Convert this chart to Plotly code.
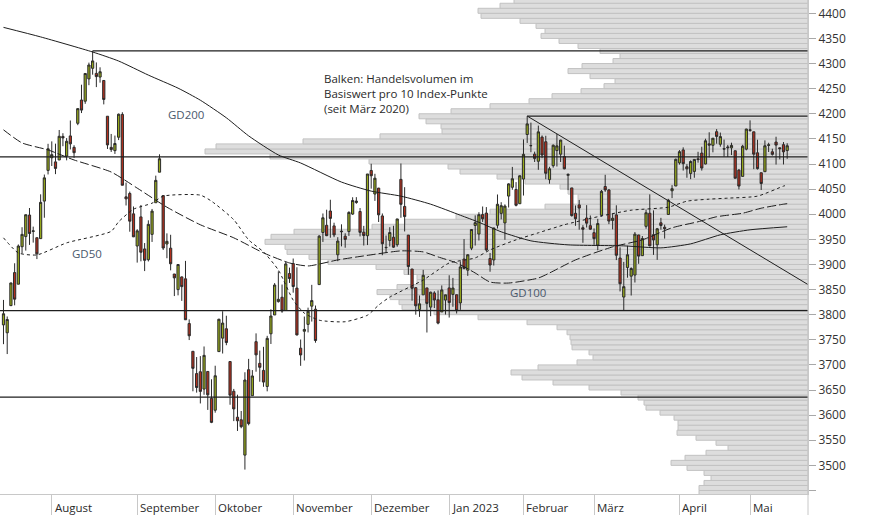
import pandas as pd
import plotly.graph_objects as go

# ---------------- data ----------------
holidays = ['2022-09-05', '2022-11-24', '2022-12-26', '2023-01-02',
            '2023-01-16', '2023-02-20', '2023-04-07']
dates = [d.strftime('%Y-%m-%d') for d in
         pd.bdate_range('2022-07-13', '2023-05-15', freq='C', holidays=holidays)]

open_ = [
    3779.7, 3764.0, 3818.0, 3883.8, 3860.7, 3935.3, 3955.5, 3998.4, 3965.7, 3953.2, 3951.4, 4026.1, 4087.3,
    4112.4, 4104.2, 4108.0, 4154.9, 4115.9, 4155.9, 4133.1, 4181.0, 4227.4, 4225.0, 4269.4, 4290.5, 4280.4, 4273.1, 4266.3, 4195.1, 4133.1, 4126.6, 4153.3, 4198.7, 4034.6, 4041.3, 4000.7,
    3936.7, 3994.7, 3930.9, 3909.4, 3959.9, 4022.9, 4083.7, 4037.1, 3940.7, 3932.4, 3881.0, 3849.9, 3875.2, 3871.4, 3782.4, 3727.1, 3682.7, 3686.4, 3651.9, 3687.0, 3633.5,
    3609.8, 3726.5, 3753.3, 3772.0, 3706.7, 3647.5, 3595.9, 3590.8, 3520.4, 3690.4, 3638.7, 3746.3, 3703.1, 3689.1, 3657.1, 3762.0, 3799.4, 3826.0, 3834.7, 3808.3, 3881.9,
    3901.8, 3852.9, 3733.3, 3767.0, 3780.7, 3817.0, 3810.9, 3859.9, 3963.7, 3978.0, 4006.4, 3976.8, 3919.3, 3966.4, 3956.2, 3965.5, 4000.3, 4023.3, 4005.4, 3964.2, 3957.2,
    4087.1, 4040.2, 4052.0, 3996.6, 3933.3, 3947.8, 3954.2, 3939.3, 4069.4, 4015.5, 3958.4, 3890.9, 3853.8, 3810.5, 3839.5, 3853.3, 3815.1, 3843.3, 3829.6, 3805.5, 3829.1,
    3853.3, 3840.4, 3839.7, 3823.4, 3910.8, 3888.6, 3932.4, 3977.6, 3960.6, 3999.3, 4002.3, 3911.8, 3909.0, 3978.1, 4001.7, 3982.7, 4036.1, 4053.7, 4049.3, 4020.9,
    4070.1, 4158.7, 4136.7, 4119.6, 4105.4, 4153.5, 4144.3, 4068.9, 4096.6, 4126.7, 4119.5, 4114.8, 4077.4, 4052.4, 4001.8, 4018.6, 3973.2, 3992.4, 3977.2,
    3963.3, 3938.7, 3998.0, 4055.2, 4048.3, 3987.6, 3998.7, 3912.8, 3835.1, 3894.0, 3876.7, 3878.9, 3958.7, 3917.5, 3975.9, 4002.0, 3959.2, 3939.2, 3982.9, 3974.1, 3999.5, 4046.7, 4056.2,
    4102.2, 4128.0, 4094.5, 4081.2, 4085.2, 4110.3, 4121.7, 4100.0, 4140.1, 4137.2, 4164.3, 4139.3, 4130.5, 4132.1, 4132.1, 4126.4, 4087.8, 4075.3, 4129.6,
    4166.8, 4164.1, 4122.3, 4082.6, 4084.7, 4137.0, 4124.3, 4143.7, 4132.2, 4138.5, 4126.7]
high = [
    3829.4, 3796.4, 3863.6, 3902.4, 3939.8, 3974.1, 3999.3, 4012.4, 3975.3, 3953.2, 4039.6, 4079.0, 4140.2,
    4145.0, 4140.5, 4167.7, 4161.3, 4151.6, 4186.6, 4137.3, 4211.0, 4257.9, 4280.5, 4301.8, 4325.3, 4302.2, 4292.5, 4266.3, 4195.1, 4159.8, 4156.6, 4200.5, 4203.0, 4063.0, 4045.0, 4015.4,
    3970.2, 4018.4, 3942.6, 3987.9, 4010.5, 4076.8, 4119.3, 4037.1, 3961.9, 3959.1, 3881.0, 3900.5, 3876.0, 3907.1, 3790.6, 3727.1, 3715.7, 3717.5, 3736.7, 3687.0, 3671.4,
    3698.4, 3791.9, 3806.9, 3797.9, 3706.7, 3652.2, 3640.7, 3608.3, 3685.4, 3712.0, 3689.7, 3762.8, 3728.6, 3736.0, 3757.9, 3810.7, 3862.9, 3886.2, 3860.0, 3905.4, 3893.7,
    3911.8, 3894.4, 3750.6, 3796.3, 3814.0, 3859.4, 3818.2, 3958.3, 4001.5, 4009.0, 4028.8, 3983.1, 3954.3, 3979.9, 3962.0, 4005.9, 4033.8, 4034.0, 4012.3, 3976.8, 4080.1,
    4100.5, 4080.5, 4052.5, 4001.5, 3957.6, 3974.2, 3977.0, 3990.7, 4101.0, 4053.8, 3958.4, 3890.9, 3854.9, 3838.2, 3889.3, 3853.3, 3845.8, 3846.7, 3848.3, 3858.2, 3839.9,
    3878.5, 3873.2, 3839.7, 3906.2, 3950.6, 3919.8, 3970.1, 3997.8, 4004.0, 4015.4, 4014.2, 3922.9, 3973.0, 4039.3, 4023.9, 4019.6, 4061.6, 4094.2, 4063.9, 4077.2,
    4149.0, 4195.4, 4182.4, 4124.6, 4176.5, 4156.9, 4156.2, 4094.4, 4138.9, 4159.8, 4148.1, 4136.5, 4081.5, 4052.4, 4017.4, 4028.3, 3978.3, 4018.1, 3997.5,
    3971.7, 3990.8, 4048.3, 4078.5, 4050.0, 4000.4, 4017.8, 3934.1, 3905.1, 3937.3, 3894.3, 3964.5, 3958.9, 3956.6, 4009.1, 4039.5, 4007.7, 3972.7, 3992.8, 3979.2, 4030.6, 4057.9, 4110.8,
    4127.7, 4133.1, 4099.7, 4107.3, 4109.5, 4124.3, 4134.4, 4150.3, 4163.2, 4151.7, 4169.5, 4162.6, 4148.6, 4138.0, 4142.4, 4126.4, 4089.7, 4138.2, 4170.1,
    4186.9, 4164.1, 4148.3, 4082.6, 4147.0, 4142.3, 4130.4, 4154.3, 4132.8, 4143.7, 4141.3]
low = [
    3741.3, 3721.6, 3817.2, 3818.6, 3860.7, 3922.0, 3927.6, 3938.9, 3943.5, 3910.7, 3951.4, 3993.0, 4079.2,
    4096.0, 4079.8, 4108.0, 4135.4, 4107.3, 4129.0, 4112.1, 4177.3, 4201.4, 4219.8, 4256.9, 4277.8, 4253.1, 4262.0, 4218.7, 4129.9, 4124.0, 4120.0, 4147.6, 4057.7, 4017.4, 3965.2, 3954.5,
    3903.7, 3906.2, 3886.8, 3906.0, 3944.8, 4022.9, 4083.7, 3928.9, 3912.4, 3888.3, 3837.1, 3838.5, 3827.5, 3789.5, 3749.5, 3647.5, 3644.8, 3623.3, 3640.6, 3610.4, 3584.1,
    3604.9, 3726.5, 3722.7, 3739.2, 3620.7, 3588.1, 3568.5, 3573.9, 3491.6, 3579.7, 3638.7, 3686.5, 3666.5, 3656.4, 3647.4, 3741.7, 3799.4, 3824.1, 3803.8, 3808.3, 3863.2,
    3843.8, 3758.7, 3698.2, 3708.8, 3764.7, 3786.3, 3744.2, 3859.9, 3944.8, 3956.4, 3953.2, 3954.3, 3906.5, 3936.0, 3933.3, 3956.9, 3998.7, 4020.8, 3955.8, 3937.7, 3938.6,
    4050.9, 4026.6, 3984.5, 3918.4, 3922.7, 3935.8, 3933.0, 3935.3, 3993.0, 3965.7, 3879.5, 3827.9, 3800.0, 3795.6, 3839.5, 3764.5, 3797.0, 3813.2, 3780.8, 3805.5, 3800.3,
    3794.3, 3815.8, 3802.4, 3809.6, 3890.4, 3877.3, 3928.5, 3937.6, 3947.7, 3984.6, 3926.6, 3885.5, 3897.9, 3971.6, 3989.8, 3949.1, 4013.3, 4048.7, 4015.6, 4020.4,
    4037.2, 4141.9, 4123.4, 4104.0, 4088.4, 4111.7, 4069.7, 4060.8, 4092.7, 4095.0, 4104.0, 4089.5, 4048.0, 3995.2, 3976.9, 3969.2, 3943.1, 3973.6, 3969.0,
    3939.1, 3928.2, 3995.2, 4044.6, 3980.3, 3969.8, 3908.7, 3846.3, 3808.9, 3873.6, 3838.2, 3864.1, 3901.3, 3916.9, 3971.2, 3936.2, 3919.1, 3909.2, 3969.3, 3951.5, 3999.5, 4032.1, 4056.2,
    4098.8, 4086.9, 4072.6, 4069.8, 4072.6, 4102.6, 4086.9, 4099.4, 4113.2, 4123.2, 4140.4, 4134.5, 4114.6, 4113.9, 4117.8, 4071.4, 4049.4, 4075.3, 4127.2,
    4164.1, 4089.7, 4088.9, 4048.3, 4084.7, 4123.8, 4116.7, 4098.9, 4109.3, 4099.1, 4110.3]
close = [
    3801.8, 3790.4, 3863.2, 3830.9, 3936.7, 3959.9, 3999.0, 3961.6, 3966.8, 3921.1, 4023.6, 4072.4, 4130.3,
    4118.6, 4091.2, 4155.2, 4151.9, 4145.2, 4140.1, 4122.5, 4210.2, 4207.3, 4280.2, 4297.1, 4305.2, 4274.0, 4283.7, 4228.5, 4138.0, 4128.7, 4140.8, 4199.1, 4057.7, 4030.6, 3986.2, 3955.0,
    3966.9, 3924.3, 3908.2, 3979.9, 4006.2, 4067.4, 4110.4, 3932.7, 3946.0, 3901.4, 3873.3, 3899.9, 3855.9, 3789.9, 3758.0, 3693.2, 3655.0, 3647.3, 3719.0, 3640.5, 3585.6,
    3678.4, 3790.9, 3783.3, 3744.5, 3639.7, 3612.4, 3588.8, 3577.0, 3669.9, 3583.1, 3678.0, 3720.0, 3695.2, 3665.8, 3752.8, 3797.3, 3859.1, 3830.6, 3807.3, 3901.1, 3872.0,
    3856.1, 3759.7, 3719.9, 3770.6, 3806.8, 3828.1, 3748.6, 3956.4, 3992.9, 3957.3, 3991.7, 3958.8, 3946.6, 3965.3, 3949.9, 4003.6, 4027.3, 4026.1, 3963.9, 3957.6, 4080.1,
    4076.6, 4071.7, 3998.8, 3941.3, 3933.9, 3963.5, 3934.4, 3990.6, 4019.7, 3995.3, 3895.8, 3852.4, 3817.7, 3821.6, 3878.4, 3822.4, 3844.8, 3829.3, 3783.2, 3849.3, 3839.5,
    3824.1, 3853.0, 3808.1, 3895.1, 3892.1, 3919.3, 3969.6, 3983.2, 3999.1, 3991.0, 3928.9, 3898.9, 3972.6, 4019.8, 4017.0, 4016.2, 4060.4, 4070.6, 4017.8, 4076.6,
    4119.2, 4179.8, 4136.5, 4111.1, 4164.0, 4117.9, 4081.5, 4090.5, 4137.3, 4136.1, 4147.6, 4090.4, 4079.1, 3997.3, 3991.1, 4012.3, 3970.0, 3982.2, 3970.2,
    3951.4, 3981.4, 4045.6, 4048.4, 3986.4, 3992.0, 3918.3, 3861.6, 3855.8, 3919.3, 3891.9, 3960.3, 3916.6, 3951.6, 4002.9, 3937.0, 3948.7, 3971.0, 3977.5, 3971.3, 4027.8, 4050.8, 4109.3,
    4124.5, 4100.6, 4090.4, 4105.0, 4109.1, 4108.9, 4092.0, 4146.2, 4137.6, 4151.3, 4154.9, 4154.5, 4129.8, 4133.5, 4137.0, 4071.6, 4056.0, 4135.4, 4169.5,
    4167.9, 4119.6, 4090.8, 4061.2, 4136.3, 4138.1, 4119.2, 4137.6, 4130.6, 4124.1, 4136.3]

# moving averages
gd200_dates = ['2022-07-13', '2022-07-27', '2022-08-16', '2022-08-25', '2022-09-07', '2022-09-19',
               '2022-09-27', '2022-10-06', '2022-10-14', '2022-10-26', '2022-11-03', '2022-11-18',
               '2022-12-01', '2022-12-13', '2022-12-23', '2023-01-06', '2023-01-13', '2023-01-24',
               '2023-02-03', '2023-02-17', '2023-03-13', '2023-03-27', '2023-04-06', '2023-04-19',
               '2023-05-01', '2023-05-15']
gd200_vals = [4372, 4353, 4323, 4305, 4277, 4251, 4227, 4192, 4156, 4118, 4102, 4064,
              4046, 4036, 4020, 3998, 3984, 3965, 3947, 3939, 3937, 3933, 3941, 3959, 3969, 3975]

gd100_dates = ['2022-07-13', '2022-07-20', '2022-07-29', '2022-08-09', '2022-08-23', '2022-09-01',
               '2022-09-14', '2022-09-27', '2022-10-10', '2022-10-20', '2022-10-31', '2022-11-07',
               '2022-11-17', '2022-11-29', '2022-12-13', '2022-12-21', '2022-12-28', '2023-01-05',
               '2023-01-12', '2023-01-19', '2023-01-26', '2023-02-07', '2023-02-10', '2023-02-22',
               '2023-03-08', '2023-03-20', '2023-03-30', '2023-04-11', '2023-04-18', '2023-04-27',
               '2023-05-04', '2023-05-12', '2023-05-15']
gd100_vals = [4168, 4142, 4128, 4108, 4084, 4052, 4014, 3979, 3953, 3923, 3903, 3897,
              3909, 3917, 3927, 3925, 3915, 3903, 3883, 3865, 3863, 3873, 3883, 3909,
              3935, 3949, 3973, 3985, 3995, 4002, 4012, 4020, 4021]

gd50_dates = ['2022-07-13', '2022-07-19', '2022-07-26', '2022-08-05', '2022-08-23', '2022-08-25',
              '2022-08-31', '2022-09-08', '2022-09-13', '2022-09-27', '2022-09-30', '2022-10-10',
              '2022-10-14', '2022-10-20', '2022-10-26', '2022-11-01', '2022-11-04', '2022-11-10',
              '2022-11-21', '2022-11-30', '2022-12-05', '2022-12-08', '2022-12-21', '2022-12-28',
              '2023-01-03', '2023-01-12', '2023-01-19', '2023-01-30', '2023-02-07', '2023-02-16',
              '2023-03-02', '2023-03-15', '2023-03-29', '2023-04-05', '2023-04-14', '2023-04-21',
              '2023-05-03', '2023-05-12', '2023-05-15']
gd50_vals = [3953, 3923, 3919, 3943, 3966, 3985, 4010, 4022, 4036, 4038, 4026, 3989,
             3949, 3925, 3889, 3829, 3803, 3789, 3786, 3799, 3819, 3835, 3869, 3889,
             3903, 3913, 3929, 3949, 3963, 3979, 3995, 4008, 4014, 4026, 4030, 4032,
             4036, 4056, 4058]

# volume profile: turnover per 10 index points (relative units), bins from 3440 upward
profile_bins = list(range(3440, 4430, 10))
volumen = [109, 109, 104, 97, 104, 121, 137, 123, 102, 80,
           92, 112, 131, 130, 130, 134, 148, 162, 164, 170,
           187, 219, 255, 286, 297, 270, 231, 215, 219, 236,
           237, 238, 241, 251, 281, 330, 374, 406, 409, 418,
           431, 411, 391, 391, 404, 432, 480, 499, 521, 523,
           543, 537, 514, 436, 403, 352, 318, 263, 230, 230,
           240, 248, 283, 311, 348, 360, 439, 538, 603, 592,
           505, 428, 366, 367, 382, 389, 357, 318, 279, 256,
           227, 204, 193, 218, 240, 226, 195, 188, 208, 230,
           249, 267, 263, 272, 288, 327, 330, 308, 294]

# horizontal support/resistance levels (None = whole width)
h_levels = [4325.28, 4195.44, 4114, 3808, 3636]
h_starts = ['2022-08-16', '2023-02-02', None, None, None]

# trend line from the February high
trend_start = '2023-02-02'
trend_start_val = 4195.44
trend_end_val = 3860

month_labels = ['August', 'September', 'Oktober', 'November', 'Dezember',
                'Jan 2023', 'Februar', 'März', 'April', 'Mai']
y_ticks = list(range(3450, 4401, 50))

# ---------------- figure ----------------
pos = {d: i for i, d in enumerate(dates)}
xs = list(range(len(dates)))
x_left, x_right = -0.94, len(dates) - 1 + 5.6

# first trading day of each month (from August)
month_idx = []
seen = set()
for i, d in enumerate(dates):
    m = d[:7]
    if m not in seen:
        seen.add(m)
        if i > 0:
            month_idx.append(i)

FONT = 'Open Sans, Noto Sans, sans-serif'
LINE = '#1e1e1e'

fig = go.Figure()

fig.add_trace(go.Bar(
    x=volumen, y=[b + 5 for b in profile_bins], orientation='h', width=10,
    marker=dict(color='#dddddd', line=dict(color='#c2c2c2', width=1)),
    xaxis='x', yaxis='y', hoverinfo='skip'))

for dts, vals, dash in [(gd200_dates, gd200_vals, 'solid'),
                        (gd100_dates, gd100_vals, '9px,3px'),
                        (gd50_dates, gd50_vals, '3px,3px')]:
    fig.add_trace(go.Scatter(
        x=[pos[d] for d in dts], y=vals, mode='lines',
        line=dict(color=LINE, width=1, dash=dash, shape='spline', smoothing=0.6),
        xaxis='x2', yaxis='y', hoverinfo='skip'))

# trend line
t0 = pos[trend_start]
fig.add_trace(go.Scatter(
    x=[t0, x_right], y=[trend_start_val, trend_end_val], mode='lines',
    line=dict(color=LINE, width=1), xaxis='x2', yaxis='y', hoverinfo='skip'))

fig.add_trace(go.Candlestick(
    x=xs, open=open_, high=high, low=low, close=close,
    increasing=dict(line=dict(color='#2b2b2b', width=1), fillcolor='#98aa1c'),
    decreasing=dict(line=dict(color='#2b2b2b', width=1), fillcolor='#b3301e'),
    whiskerwidth=0, xaxis='x2', yaxis='y'))

shapes = []
for lvl, st in zip(h_levels, h_starts):
    x0 = x_left if st is None else pos[st]
    shapes.append(dict(type='line', xref='x2', yref='y', x0=x0, x1=x_right,
                       y0=lvl, y1=lvl, line=dict(color=LINE, width=1.2), layer='above'))
# right axis line continues into the label strip
shapes.append(dict(type='line', xref='paper', yref='paper', x0=1, x1=1, y0=-0.05, y1=1,
                   line=dict(color='#c8c8c8', width=1)))

annotations = []
for i, lab in zip(month_idx, month_labels):
    annotations.append(dict(x=i, y=0, xref='x2', yref='paper', text=lab, showarrow=False,
                            xanchor='left', yanchor='middle', xshift=1, yshift=-13,
                            font=dict(family=FONT, size=11.5, color='#2a2a2a')))

annotations.append(dict(x=322 / 808, y=1 - 69 / 494, xref='paper', yref='paper',
                        text='Balken: Handelsvolumen im<br>Basiswert pro 10 Index-Punkte<br>(seit März 2020)',
                        showarrow=False, xanchor='left', yanchor='top', align='left',
                        font=dict(family=FONT, size=11.5, color='#2a2a2a')))
for txt, px, py in [('GD200', 186, 114), ('GD50', 87, 253), ('GD100', 528, 292)]:
    annotations.append(dict(x=px / 808, y=1 - py / 494, xref='paper', yref='paper', text=txt,
                            showarrow=False, xanchor='center', yanchor='middle',
                            font=dict(family=FONT, size=11.5, color='#4a586c')))

fig.update_layout(
    width=874, height=515,
    margin=dict(l=0, r=66, t=0, b=21),
    paper_bgcolor='white', plot_bgcolor='white',
    showlegend=False, boxgap=0.15,
    xaxis=dict(range=[808, 0], visible=False, showgrid=False, zeroline=False, fixedrange=True),
    xaxis2=dict(overlaying='x', anchor='y', side='bottom', range=[x_left, x_right],
                tickvals=month_idx, ticks='outside', ticklen=21, tickcolor='#c8c8c8',
                tickwidth=1, showticklabels=False, showline=True, linecolor='#c8c8c8',
                showgrid=False, zeroline=False, rangeslider=dict(visible=False)),
    yaxis=dict(side='right', range=[3443, 4426.5], tickvals=y_ticks,
               ticktext=['' if v == 3450 else str(v) for v in y_ticks],
               ticks='outside', ticklen=7, tickcolor='#a8a8a8', showline=True,
               linecolor='#c8c8c8', showgrid=False, zeroline=False,
               tickfont=dict(family=FONT, size=12, color='#333333')),
    shapes=shapes, annotations=annotations,
)

fig.write_html('out.html', config={'displayModeBar': False},
               post_script="document.body.style.margin='0';document.body.style.overflow='hidden';")
